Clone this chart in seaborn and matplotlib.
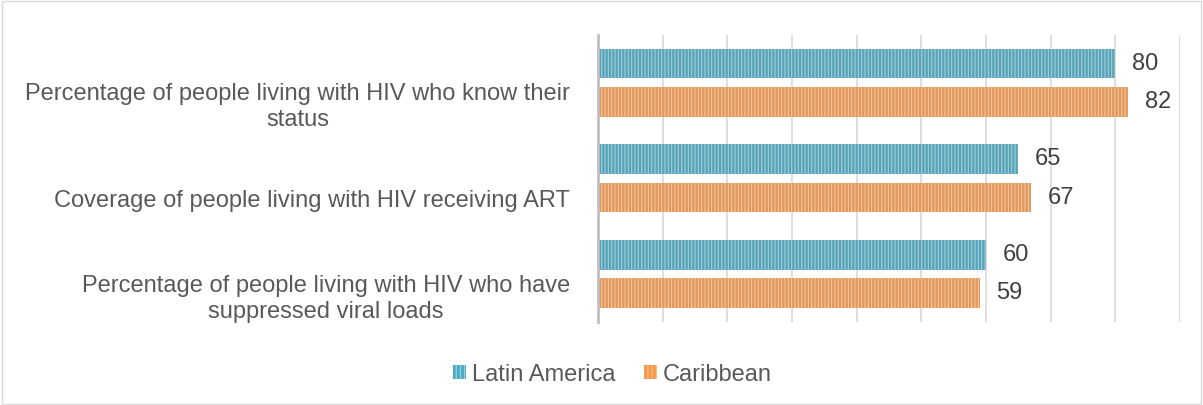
import numpy as np
import pandas as pd
import matplotlib
matplotlib.use("Agg")
import matplotlib.pyplot as plt
import matplotlib.transforms as mtransforms
import seaborn as sns
from matplotlib.patches import Rectangle

# data
categories = [
    "Percentage of people living with HIV who know their\nstatus",
    "Coverage of people living with HIV receiving ART",
    "Percentage of people living with HIV who have\nsuppressed viral loads",
]
series_names = ["Latin America", "Caribbean"]
latin_america = [80, 65, 60]
caribbean = [82, 67, 59]

colors = ["#4BACC6", "#F79646"]
stripe_colors = ["#A5D5E2", "#FBC9A2"]
text_gray = "#595959"

df = pd.DataFrame({
    "category": categories * 2,
    "region": [series_names[0]] * 3 + [series_names[1]] * 3,
    "value": latin_america + caribbean,
})

sns.set_style("white")
plt.rcParams["font.family"] = ["Liberation Sans", "DejaVu Sans"]
plt.rcParams["hatch.linewidth"] = 0.7

fs = 17

fig = plt.figure(figsize=(12.03, 4.05), dpi=100)
ax = fig.add_axes([0.497, 0.205, 0.484, 0.709])

sns.barplot(data=df, y="category", x="value", hue="region", orient="h",
            palette=colors, width=0.8, gap=0.22, ax=ax, legend=False)

# striped fill
for cont, stripe in zip(ax.containers, stripe_colors):
    for bar in cont:
        bar.set_hatch("|||||")
        bar.set_edgecolor(stripe)
        bar.set_linewidth(0)
    ax.bar_label(cont, padding=12, fontsize=fs, color="#404040")

ax.set_xlim(0, 90)
ax.set_xticks(np.arange(0, 91, 10))
ax.set_xticklabels([])
ax.tick_params(axis="x", length=0)
ax.grid(axis="x", color="#D9D9D9", linewidth=1.2)
ax.set_axisbelow(True)
ax.set_xlabel("")
ax.set_ylabel("")

ax.set_ylim(2.5, -0.5)
ax.tick_params(axis="y", which="major", length=0, pad=20,
               labelsize=fs, labelcolor=text_gray)
shift = mtransforms.ScaledTranslation(0, -0.2, fig.dpi_scale_trans)
for lbl in ax.get_yticklabels():
    lbl.set_horizontalalignment("right")
    lbl.set_multialignment("center")
    lbl.set_linespacing(1.25)
    lbl.set_transform(lbl.get_transform() + shift)
ax.set_yticks([-0.5, 0.5, 1.5, 2.5], minor=True)
ax.tick_params(axis="y", which="minor", length=5, width=2, color="#BFBFBF")

for side in ["top", "right", "bottom"]:
    ax.spines[side].set_visible(False)
ax.spines["left"].set_color("#BFBFBF")
ax.spines["left"].set_linewidth(2)

# legend
handles = [Rectangle((0, 0), 1, 1, facecolor=c, edgecolor=s, hatch="||||", linewidth=0)
           for c, s in zip(colors, stripe_colors)]
fig.legend(handles, series_names, loc="center", bbox_to_anchor=(0.509, 0.075),
           ncol=2, frameon=False, fontsize=fs, labelcolor=text_gray,
           handlelength=0.55, handleheight=0.55, handletextpad=0.25, columnspacing=1.2)

# outer border
fig.patches.append(Rectangle((0.002, 0.003), 0.996, 0.994, transform=fig.transFigure,
                             fill=False, edgecolor="#D9D9D9", linewidth=1))

fig.savefig("out.png", dpi=100)
